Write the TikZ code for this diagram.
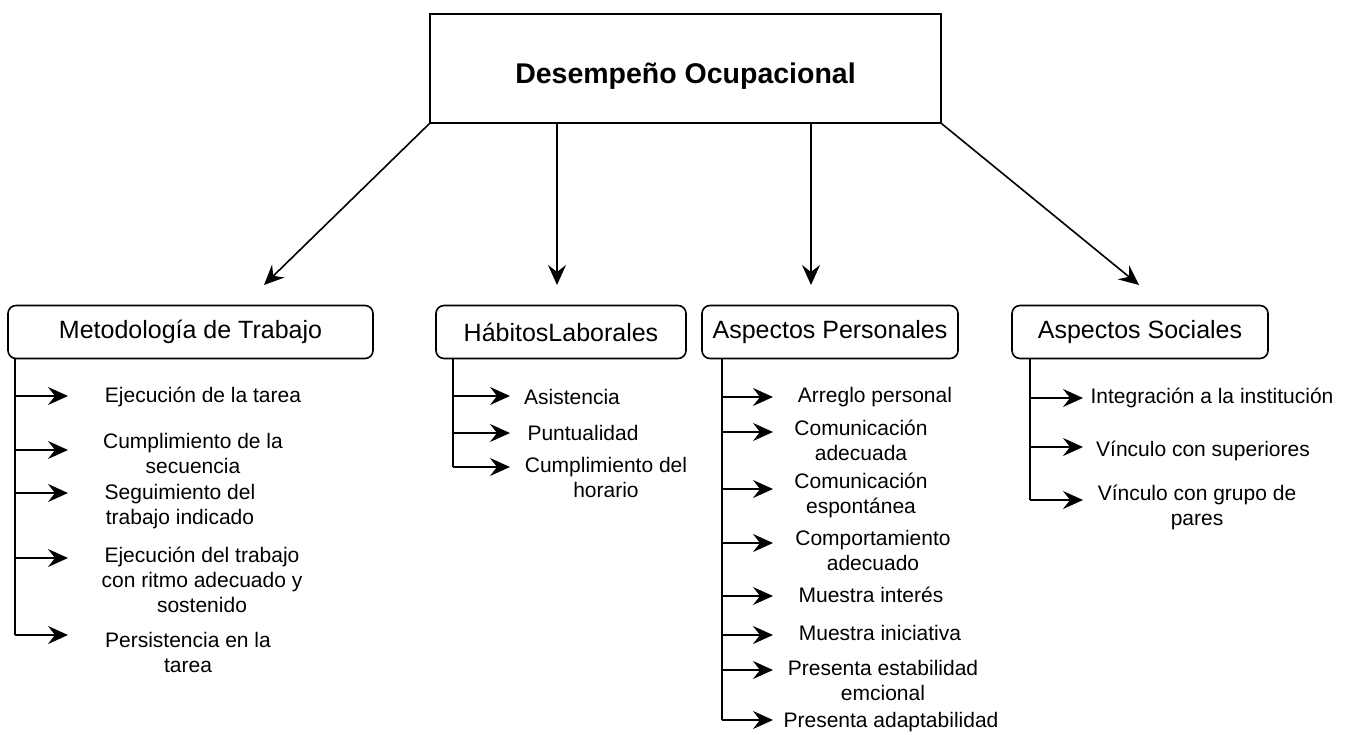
\documentclass[tikz,border=0pt]{standalone}
\usepackage{fontspec}
\setmainfont{Liberation Sans}
\usetikzlibrary{arrows.meta}

\begin{document}
\begin{tikzpicture}[x=1pt,y=-1pt,line width=1.6pt,
  link/.style={-{Stealth[length=20pt,width=18pt,inset=7pt]}},
  mainbox/.style={draw,minimum width=511pt,minimum height=109pt,text height=35pt,
    font=\fontsize{28.5}{34}\selectfont\bfseries},
  catbox/.style={draw,rounded corners=8pt,minimum height=53pt,
    font=\fontsize{25}{30}\selectfont},
  item/.style={align=center,font=\fontsize{21}{25}\selectfont}]
\useasboundingbox (0,0) rectangle (1348,735);

\node[mainbox] (top) at (685.5,68.5) {Desempeño Ocupacional};

\node[catbox,minimum width=365pt] (metod) at (190.5,332) {Metodología de Trabajo};
\node[catbox,minimum width=250pt] (habit) at (561,332) {HábitosLaborales};
\node[catbox,minimum width=256pt] (perso) at (830,332) {Aspectos Personales};
\node[catbox,minimum width=256pt] (socia) at (1140,332) {Aspectos Sociales};

% arrows from the main box
\coordinate (tM) at (264,285);
\coordinate (tH) at (557,285);
\coordinate (tP) at (811,285);
\coordinate (tS) at (1139,285);
\draw[link] (top.south west) -- (tM);
\draw[link] (top.south -| tH) -- (tH);
\draw[link] (top.south -| tP) -- (tP);
\draw[link] (top.south east) -- (tS);

% Metodologia de Trabajo
\coordinate (mv) at ([xshift=8pt]metod.south west);
\coordinate (m1) at (68,396);
\coordinate (m2) at (68,450);
\coordinate (m3) at (68,493);
\coordinate (m4) at (68,558);
\coordinate (m5) at (68,635);
\draw (mv) -- (mv |- m5);
\foreach \c in {m1,m2,m3,m4,m5}
  \draw[link] (mv |- \c) -- (\c);
\node[item] (mt1) at (203,397) {Ejecución de la tarea};
\node[item] (mt2) at (193,453) {Cumplimiento de la\\secuencia};
\node[item] (mt3) at (180,507) {Seguimiento del\\trabajo indicado};
\node[item] (mt4) at (202,580) {Ejecución del trabajo\\con ritmo adecuado y\\sostenido};
\node[item] (mt5) at (188,652) {Persistencia en la\\tarea};

% Habitos Laborales
\coordinate (hv) at ([xshift=18pt]habit.south west);
\coordinate (h1) at (510,396);
\coordinate (h2) at (510,433);
\coordinate (h3) at (510,467);
\draw (hv) -- (hv |- h3);
\foreach \c in {h1,h2,h3}
  \draw[link] (hv |- \c) -- (\c);
\node[item] (ht1) at (572,397) {Asistencia};
\node[item] (ht2) at (583,433) {Puntualidad};
\node[item] (ht3) at (606,477) {Cumplimiento del\\horario};

% Aspectos Personales
\coordinate (pv) at ([xshift=21pt]perso.south west);
\coordinate (p1) at (773,397);
\coordinate (p2) at (773,432);
\coordinate (p3) at (773,489);
\coordinate (p4) at (773,543);
\coordinate (p5) at (773,596);
\coordinate (p6) at (773,635);
\coordinate (p7) at (773,670);
\coordinate (p8) at (773,720);
\draw (pv) -- (pv |- p8);
\foreach \c in {p1,p2,p3,p4,p5,p6,p7,p8}
  \draw[link] (pv |- \c) -- (\c);
\node[item] (pt1) at (875,397) {Arreglo personal};
\node[item] (pt2) at (861,440) {Comunicación\\adecuada};
\node[item] (pt3) at (861,495) {Comunicación\\espontánea};
\node[item] (pt4) at (873,550) {Comportamiento\\adecuado};
\node[item] (pt5) at (871,595) {Muestra interés};
\node[item] (pt6) at (880,633) {Muestra iniciativa};
\node[item] (pt7) at (883,680) {Presenta estabilidad\\emcional};
\node[item] (pt8) at (891,722) {Presenta adaptabilidad};

% Aspectos Sociales
\coordinate (sv) at ([xshift=19pt]socia.south west);
\coordinate (s1) at (1083,398);
\coordinate (s2) at (1083,447);
\coordinate (s3) at (1083,500);
\draw (sv) -- (sv |- s3);
\foreach \c in {s1,s2,s3}
  \draw[link] (sv |- \c) -- (\c);
\node[item] (st1) at (1212,398) {Integración a la institución};
\node[item] (st2) at (1203,451) {Vínculo con superiores};
\node[item] (st3) at (1197,507) {Vínculo con grupo de\\pares};
\end{tikzpicture}
\end{document}
